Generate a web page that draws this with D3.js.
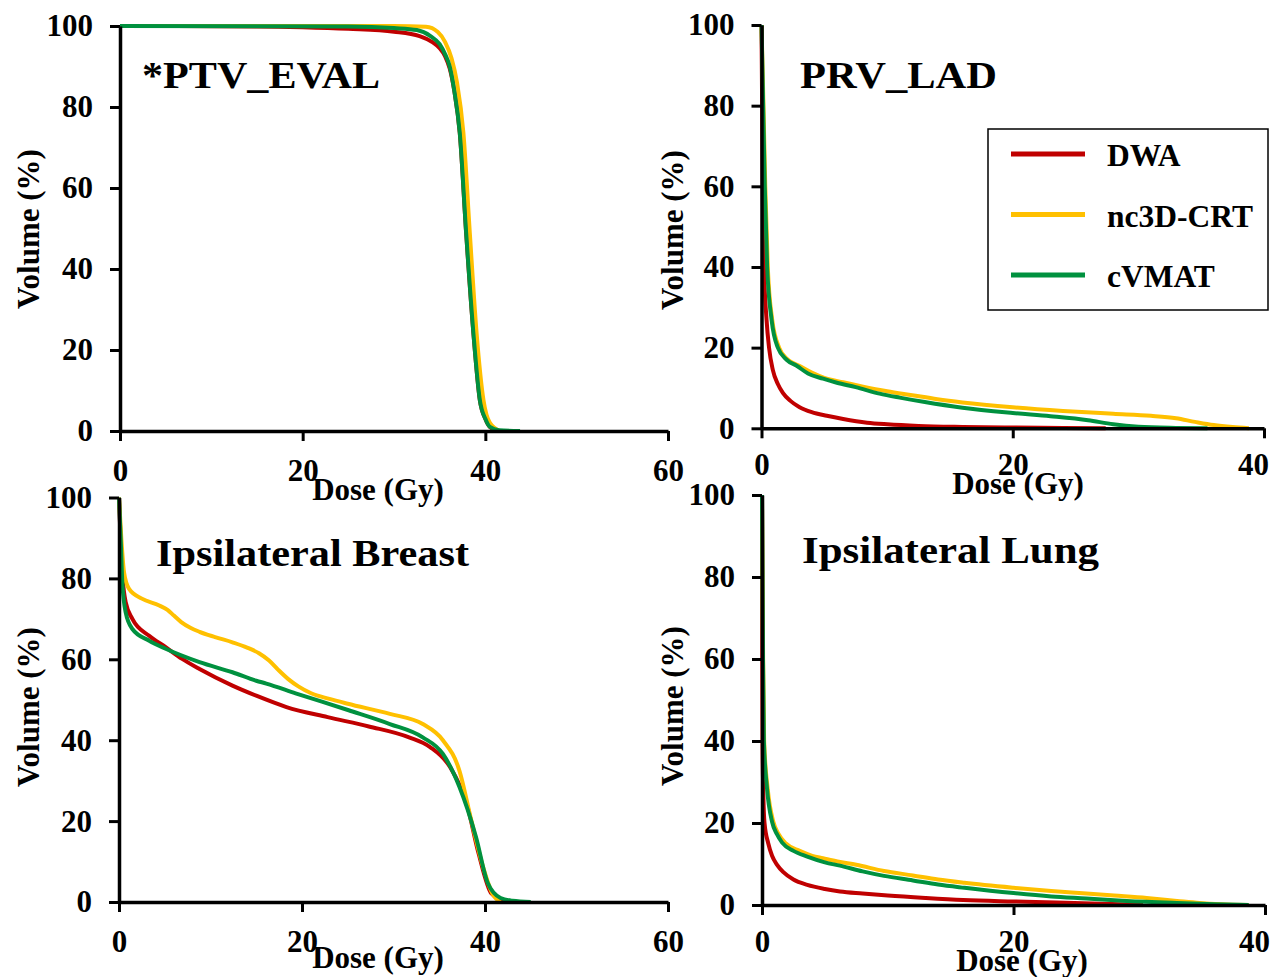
<!DOCTYPE html>
<html>
<head>
<meta charset="utf-8">
<script src="https://cdn.jsdelivr.net/npm/d3@7"></script>
<style>
  body { margin: 0; background: #fff; }
  svg text { font-family: "Liberation Serif", "Times New Roman", serif; font-weight: bold; fill: #000; }
</style>
</head>
<body>
<svg id="chart" width="1275" height="977"></svg>
<script>
// dose (Gy), volume (%) pairs
var methods = ["DWA", "nc3D-CRT", "cVMAT"];
var colors = ["#C00000", "#FFC000", "#00913F"];

var ptvDWA = [[0,100],[15,99.9],[20,99.7],[25,99.3],[30,98.6],[32.8,97.5],[34.2,96],[35,94.5],[35.6,92.5],[36.1,89.5],[36.6,84],[37.2,73.6],[37.9,48.9],[38.7,24],[39.4,7.6],[40,3],[40.5,1],[41.5,0]];
var ptvCRT = [[0,100],[30,100],[33.5,99.8],[34.8,98.5],[35.6,96],[36.3,92],[36.9,86],[37.6,73.6],[38.3,48.9],[39.05,24],[39.8,7.6],[40.5,2],[41.6,0]];
var ptvVMAT = [[0,100],[25,99.9],[30,99.5],[32.5,99],[34,97.5],[35,95.5],[35.6,93],[36.1,90],[36.6,84],[37.2,73.6],[37.9,48.9],[38.7,24],[39.4,7.6],[40,3],[40.5,1],[41.5,0.2],[43.8,0]];

var ladDWA = [[0,100],[0.05,80],[0.1,60],[0.2,40],[0.4,27],[0.6,20],[0.9,14.5],[1.3,11],[1.7,8.8],[2.3,6.8],[3,5.3],[4,4],[5.2,3.1],[6.5,2.3],[8.4,1.4],[10,1.0],[12.5,0.6],[16,0.35],[20,0.2],[24,0.1],[27.4,0]];
var ladCRT = [[0,100],[0.12,85],[0.3,60],[0.5,40],[0.85,27],[1.4,20],[2.1,17],[3,15.5],[4,13.8],[5,12.5],[6.5,11.4],[8,10.4],[10,9.2],[12,8.2],[14,7.2],[16,6.4],[20,5.2],[24,4.3],[28,3.6],[31,3.1],[33,2.5],[34.5,1.6],[36,0.8],[37.5,0.3],[38.8,0]];
var ladVMAT = [[0,100],[0.1,85],[0.26,60],[0.45,40],[0.8,27],[1.3,20],[2,17],[2.8,15.5],[3.7,13.6],[4.9,12.3],[6,11.3],[7.5,10.2],[9.4,8.6],[11,7.6],[13,6.5],[16,5.1],[20,3.8],[23,3],[26,2],[28,1],[30,0.4],[33,0.1],[35.5,0]];

var breastDWA = [[0,100],[0.2,88],[0.4,80],[0.73,74.1],[1.46,70],[3.3,65.8],[5.1,63],[6.9,60.1],[8.8,57.6],[12.4,53.5],[15,51],[18.3,48.2],[22.8,45.7],[27.3,43.4],[31.7,40.7],[34,38.3],[36.2,33.3],[38,24.3],[39.3,12],[40.7,2.1],[42.4,0]];
var breastCRT = [[0,100],[0.25,90],[0.55,81.5],[1.1,77.4],[2.5,75],[4.4,73.3],[5.3,72.2],[6,70.8],[6.8,69.2],[7.8,67.8],[8.8,66.8],[10.5,65.5],[12.4,64.2],[14,62.9],[15.3,61.5],[16.4,59.7],[17.4,57.4],[18.5,55.1],[19.6,53.3],[21,51.6],[23,50.2],[25,49],[29.6,46.5],[33.2,44],[35.4,40],[37.2,32.5],[38.5,20.2],[39.9,7.8],[40.8,2.1],[41.7,0]];
var breastVMAT = [[0,100],[0.2,89],[0.36,79],[0.73,71.6],[1.46,67.5],[3.3,64.6],[5.1,62.6],[8.8,59.3],[12.4,56.8],[15,54.7],[16.1,54],[19.3,51.6],[25.1,47.4],[29.6,44],[33.2,40.7],[35.4,36.6],[37.2,28.5],[39,16.2],[40.3,4.7],[41.7,1],[43,0.3],[45,0]];

var lungDWA = [[0,100],[0.02,60],[0.04,40],[0.1,28],[0.2,20],[0.5,15],[0.8,12],[1.2,9.8],[1.7,8],[2.5,6.2],[3.6,4.9],[5,3.9],[6.2,3.3],[8,2.8],[10,2.3],[13,1.7],[16,1.2],[20,0.85],[23.4,0.6],[27,0.3],[30.3,0]];
var lungCRT = [[0,100],[0.09,60],[0.17,40],[0.45,28.4],[0.9,20.3],[1.3,17.4],[1.9,15],[3,13.2],[4,12],[4.85,11.4],[6,10.6],[7.5,9.8],[9.7,8.3],[12,7.2],[14,6.2],[16.1,5.4],[20,4.2],[23,3.4],[25.8,2.8],[28,2.3],[30.6,1.7],[33,1],[34.8,0.5],[36.5,0.2],[38.7,0]];
var lungVMAT = [[0,100],[0.08,60],[0.15,40],[0.4,28.4],[0.8,20.3],[1.2,17.2],[1.6,15.2],[2.5,13.2],[3.6,11.8],[5,10.4],[6.2,9.6],[8,8.2],[9.7,7.1],[12,6],[14,5],[16.1,4.2],[20,2.9],[23,2.1],[25.8,1.6],[29,1],[33,0.5],[36,0.2],[38.7,0]];

var yTicks = [0, 20, 40, 60, 80, 100];
var xTicksWide = [0, 20, 40, 60];
var xTicksNarrow = [0, 20, 40];
var titles = ["*PTV_EVAL", "PRV_LAD", "Ipsilateral Breast", "Ipsilateral Lung"];

var svg = d3.select("#chart");

var panels = [
  { title: titles[0], series: [ptvDWA, ptvCRT, ptvVMAT], xMax: 60, xTicks: xTicksWide, lastShift: 0,
    xr: [120, 668], yr: [431, 26], pad: 18, titlePos: [142, 88, 238], dose: [378, 500], vol: [28, 229] },
  { title: titles[1], series: [ladDWA, ladCRT, ladVMAT], xMax: 40, xTicks: xTicksNarrow, lastShift: -11,
    xr: [761.5, 1264], yr: [428.3, 25], pad: 15, titlePos: [800, 88, 197], dose: [1018, 494], vol: [672, 230] },
  { title: titles[2], series: [breastDWA, breastCRT, breastVMAT], xMax: 60, xTicks: xTicksWide, lastShift: 0,
    xr: [119, 668], yr: [902, 497.5], pad: 18, titlePos: [156, 566, 313], dose: [378, 968], vol: [28, 707] },
  { title: titles[3], series: [lungDWA, lungCRT, lungVMAT], xMax: 40, xTicks: xTicksNarrow, lastShift: -11,
    xr: [762, 1265], yr: [905, 495], pad: 15, titlePos: [802, 563, 297], dose: [1022, 971], vol: [672, 706] }
];

panels.forEach(function(p) {
  var x = d3.scaleLinear().domain([0, p.xMax]).range(p.xr);
  var y = d3.scaleLinear().domain([0, 100]).range(p.yr);
  var g = svg.append("g");

  var line = d3.line()
    .x(function(d) { return x(d[0]); })
    .y(function(d) { return y(d[1]); })
    .curve(d3.curveMonotoneX);

  p.series.forEach(function(s, i) {
    g.append("path")
      .datum(s)
      .attr("d", line)
      .attr("fill", "none")
      .attr("stroke", colors[i])
      .attr("stroke-width", 4)
      .attr("stroke-linejoin", "round");
  });

  var xAxis = g.append("g")
    .attr("transform", "translate(0," + p.yr[0] + ")")
    .call(d3.axisBottom(x).tickValues(p.xTicks).tickSize(10).tickSizeOuter(0).tickPadding(p.pad).tickFormat(d3.format("d")));
  var yAxis = g.append("g")
    .attr("transform", "translate(" + p.xr[0] + ",0)")
    .call(d3.axisLeft(y).tickValues(yTicks).tickSize(10).tickSizeOuter(0).tickPadding(17).tickFormat(d3.format("d")));

  [xAxis, yAxis].forEach(function(a) {
    a.select(".domain").attr("stroke", "#000").attr("stroke-width", 3.5);
    a.selectAll(".tick line").attr("stroke", "#000").attr("stroke-width", 3);
    a.selectAll(".tick text").style("font-size", "31px").attr("fill", "#000");
  });
  // the last dose label sits a little left of its tick at the right edge
  xAxis.selectAll(".tick text")
    .filter(function(d) { return d === p.xMax; })
    .attr("dx", p.lastShift);

  g.append("text")
    .attr("x", p.titlePos[0]).attr("y", p.titlePos[1])
    .attr("textLength", p.titlePos[2]).attr("lengthAdjust", "spacingAndGlyphs")
    .style("font-size", "37px")
    .text(p.title);

  g.append("text")
    .attr("x", p.dose[0]).attr("y", p.dose[1])
    .attr("text-anchor", "middle")
    .style("font-size", "31px")
    .text("Dose (Gy)");

  g.append("text")
    .attr("transform", "translate(" + p.vol[0] + "," + p.vol[1] + ") rotate(-90)")
    .attr("text-anchor", "middle")
    .attr("dy", "0.35em")
    .style("font-size", "31px")
    .text("Volume (%)");
});

// legend in the PRV_LAD panel
var legend = svg.append("g");
legend.append("rect")
  .attr("x", 988).attr("y", 129).attr("width", 280).attr("height", 181)
  .attr("fill", "#fff").attr("stroke", "#000").attr("stroke-width", 1.5);
var legendY = d3.scalePoint().domain(methods).range([154, 275]);
methods.forEach(function(m, i) {
  legend.append("line")
    .attr("x1", 1011).attr("x2", 1085)
    .attr("y1", legendY(m)).attr("y2", legendY(m))
    .attr("stroke", colors[i]).attr("stroke-width", 5);
  legend.append("text")
    .attr("x", 1107).attr("y", legendY(m) + 12)
    .style("font-size", "31.5px")
    .text(m);
});
</script>
</body>
</html>
